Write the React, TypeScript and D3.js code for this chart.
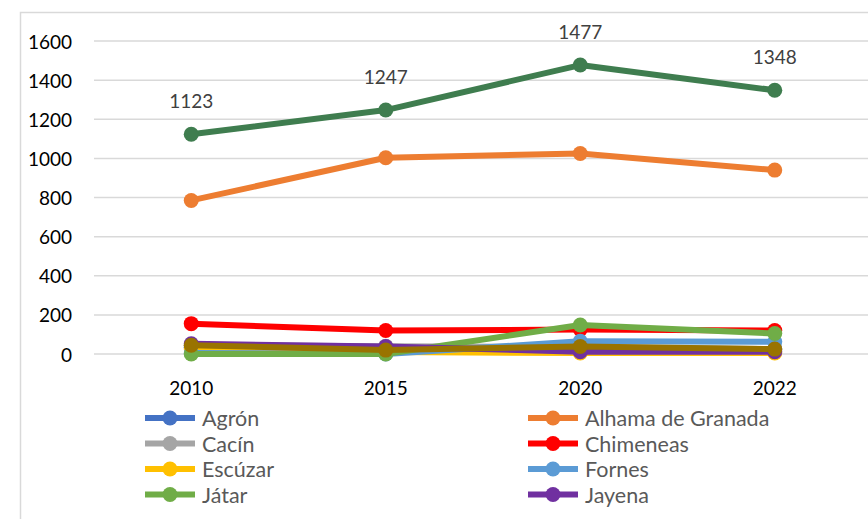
import React from "react";
import * as d3 from "d3";

const years = ["2010", "2015", "2020", "2022"];
const seriesNames = [
  "Agrón",
  "Alhama de Granada",
  "Cacín",
  "Chimeneas",
  "Escúzar",
  "Fornes",
  "Játar",
  "Jayena",
  "Santa Cruz del Comercio",
  "Zafarraya",
];
const agron = [35, 20, 30, 25];
const alhama = [785, 1003, 1025, 940];
const cacin = [45, 40, 35, 25];
const chimeneas = [155, 120, 125, 120];
const escuzar = [25, 10, 5, 5];
const fornes = [5, 0, 65, 62];
const jatar = [0, 0, 148, 105];
const jayena = [52, 38, 12, 12];
const santaCruz = [45, 20, 38, 25];
const zafarraya = [1123, 1247, 1477, 1348];
const seriesValues = [agron, alhama, cacin, chimeneas, escuzar, fornes, jatar, jayena, santaCruz, zafarraya];
const seriesColors = [
  "#4472C4",
  "#ED7D31",
  "#A5A5A5",
  "#FF0000",
  "#FFC000",
  "#5B9BD5",
  "#70AD47",
  "#7030A0",
  "#997300",
  "#3F7D4F",
];
const labeledSeries = 9;
const visibleLegendEntries = 8;
const yTicks = [0, 200, 400, 600, 800, 1000, 1200, 1400, 1600];

const FONT = "Lato, 'Open Sans', sans-serif";

export default function App() {
  const x = d3.scalePoint<string>().domain(years).range([94, 872]).padding(0.5);
  const y = d3.scaleLinear().domain([0, 1600]).range([354, 41]);
  const line = d3
    .line<number>()
    .x((_, i) => x(years[i]) as number)
    .y((d) => y(d));

  return (
    <svg
      width={868}
      height={519}
      style={{ position: "absolute", left: 0, top: 0, background: "#fff" }}
    >
      <rect x={0} y={0} width={868} height={519} fill="#fff" />
      <rect x={20.5} y={12.5} width={900} height={600} fill="#fff" stroke="#d9d9d9" strokeWidth={1.5} />
      {yTicks.map((t) => (
        <g key={t}>
          <line x1={94} x2={868} y1={y(t)} y2={y(t)} stroke="#d9d9d9" strokeWidth={1.5} />
          <text
            x={72}
            y={y(t)}
            textAnchor="end"
            dominantBaseline="central"
            fontFamily={FONT}
            fontSize={19}
            fill="#000"
          >
            {t}
          </text>
        </g>
      ))}
      {years.map((yr) => (
        <text
          key={yr}
          x={x(yr)}
          y={387}
          textAnchor="middle"
          dominantBaseline="central"
          fontFamily={FONT}
          fontSize={19}
          fill="#000"
        >
          {yr}
        </text>
      ))}
      {seriesValues.map((vals, si) => (
        <g key={si}>
          <path d={line(vals) || ""} fill="none" stroke={seriesColors[si]} strokeWidth={6} strokeLinejoin="round" />
          {vals.map((v, i) => (
            <circle key={i} cx={x(years[i])} cy={y(v)} r={7.5} fill={seriesColors[si]} />
          ))}
        </g>
      ))}
      {seriesValues[labeledSeries].map((v, i) => (
        <text
          key={i}
          x={x(years[i])}
          y={y(v) - 33.5}
          textAnchor="middle"
          dominantBaseline="central"
          fontFamily={FONT}
          fontSize={19}
          fill="#404040"
        >
          {v}
        </text>
      ))}
      {seriesNames.slice(0, visibleLegendEntries).map((name, si) => {
        const col = si % 2;
        const row = Math.floor(si / 2);
        const lx = col === 0 ? 145 : 528;
        const ly = 418 + row * 25.5;
        return (
          <g key={name}>
            <line x1={lx} x2={lx + 50} y1={ly} y2={ly} stroke={seriesColors[si]} strokeWidth={6} />
            <circle cx={lx + 25} cy={ly} r={7.5} fill={seriesColors[si]} />
            <text
              x={lx + 57}
              y={ly}
              dominantBaseline="central"
              fontFamily={FONT}
              fontSize={21.5}
              fill="#595959"
            >
              {name}
            </text>
          </g>
        );
      })}
    </svg>
  );
}
